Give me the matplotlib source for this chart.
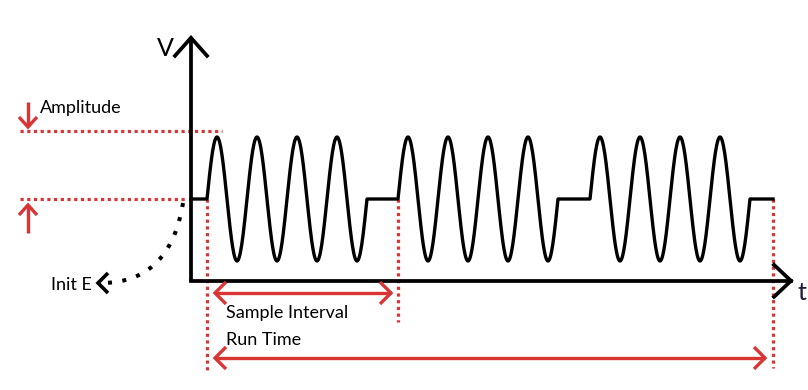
import numpy as np
import matplotlib
matplotlib.use("Agg")
import matplotlib.pyplot as plt

# ---- chart values (time in sine periods, voltage in amplitudes) ----
period = 1.0
amplitude = 1.0
cycles_per_burst = 4
burst_starts = [0.4, 5.175, 9.975]
run_end = 14.55
t_axis_end = 15.0
v_axis_top = 2.6
v_axis_bottom = -1.32
amp_marker_level = 1.1
labels = {"v": "V", "t": "t", "amp": "Amplitude", "init": "Init E",
          "interval": "Sample Interval", "run": "Run Time"}

RED = "#DA3535"
FONT = ["Lato", "DejaVu Sans"]

W, H = 808, 390
fig = plt.figure(figsize=(W / 100, H / 100), dpi=100)
ax = fig.add_axes([0, 0, 1, 1])
ax.set_axis_off()

# pixel <-> data mapping (layout)
X0, Y0, SX, SY = 191, 199, 40.0, 62.0
ax.set_xlim(-X0 / SX, (W - X0) / SX)
ax.set_ylim((Y0 - H) / SY, Y0 / SY)
def X(px): return (px - X0) / SX
def Y(py): return (Y0 - py) / SY
def dx(p): return p / SX
def dy(p): return p / SY

# ---- waveform ----
ts, vs = [0.0], [0.0]
for s in burst_starts:
    t = np.linspace(s, s + cycles_per_burst * period, 400)
    ts += list(t)
    vs += list(amplitude * np.sin(2 * np.pi * (t - s) / period))
ts.append(run_end)
vs.append(0.0)
ax.plot(ts, vs, color="black", lw=2.4, solid_joinstyle="round", zorder=3)

# ---- axes with open chevron heads ----
ax.plot([0, 0], [v_axis_bottom, v_axis_top], color="black", lw=2.7,
        solid_capstyle="butt", zorder=4)
ax.plot([0, t_axis_end], [v_axis_bottom, v_axis_bottom], color="black", lw=2.7,
        solid_capstyle="projecting", zorder=4)
ax.plot([dx(-16), 0, dx(16)], [v_axis_top - dy(18), v_axis_top, v_axis_top - dy(18)],
        color="black", lw=2.7, solid_joinstyle="miter", zorder=4)
ax.plot([t_axis_end - dx(17), t_axis_end, t_axis_end - dx(17)],
        [v_axis_bottom + dy(16), v_axis_bottom, v_axis_bottom - dy(16)],
        color="black", lw=2.7, solid_joinstyle="miter", zorder=4)
ax.text(X(165), Y(48), labels["v"], fontsize=18, family=FONT, ha="center", va="center")
ax.text(X(802), Y(292), labels["t"], fontsize=18, family=FONT, ha="center", va="center",
        color="#1a1a3a")

# ---- red dotted guide lines ----
dot = dict(color=RED, lw=2.3, linestyle=(0, (1.0, 1.1)), dash_capstyle="butt", zorder=2)
ax.plot([X(20), X(222)], [amp_marker_level] * 2, **dot)
ax.plot([X(20), X(185)], [0, 0], **dot)
ax.plot([burst_starts[0]] * 2, [0, Y(370)], **dot)
ax.plot([burst_starts[1]] * 2, [0, Y(322)], **dot)
ax.plot([run_end] * 2, [0, Y(368)], **dot)

# ---- red arrows ----
def chevron(tx, ty, ddx, ddy, color=RED, lw=2.4):
    ax.plot([tx + ddx[0], tx, tx + ddx[1]], [ty + ddy[0], ty, ty + ddy[1]],
            color=color, lw=lw, solid_joinstyle="miter", solid_capstyle="butt", zorder=5)

# amplitude arrows (vertical)
ax.plot([X(28), X(28)], [Y(102), Y(126)], color=RED, lw=2.4, solid_capstyle="butt")
chevron(X(28), Y(127), (dx(-9), dx(9)), (dy(10), dy(10)))
ax.plot([X(28), X(28)], [Y(206), Y(233)], color=RED, lw=2.4, solid_capstyle="butt")
chevron(X(28), Y(205), (dx(-9), dx(9)), (dy(-10), dy(-10)))
ax.text(X(40), Y(108), labels["amp"], fontsize=13, family=FONT, ha="left", va="center")

# sample interval arrow
si_y = Y(293)
a0, a1 = burst_starts[0] + dx(8), burst_starts[1] - dx(7)
ax.plot([a0, a1], [si_y, si_y], color=RED, lw=2.4, solid_capstyle="butt", zorder=5)
chevron(a0, si_y, (dx(11), dx(11)), (dy(11), dy(-11)))
chevron(a1, si_y, (dx(-11), dx(-11)), (dy(11), dy(-11)))
ax.text(X(226), Y(313), labels["interval"], fontsize=13, family=FONT, ha="left", va="center")

# run time arrow
rt_y = Y(358)
r0, r1 = burst_starts[0] + dx(8), run_end - dx(8)
ax.plot([r0, r1], [rt_y, rt_y], color=RED, lw=2.4, solid_capstyle="butt", zorder=5)
chevron(r0, rt_y, (dx(11), dx(11)), (dy(11), dy(-11)))
chevron(r1, rt_y, (dx(-11), dx(-11)), (dy(11), dy(-11)))
ax.text(X(226), Y(340), labels["run"], fontsize=13, family=FONT, ha="left", va="center")

# ---- Init E dotted curve (quadratic Bezier) ----
s = np.linspace(0, 1, 200)
p0, pc, p2 = np.array([183, 203]), np.array([170, 283]), np.array([101, 283])
bz = ((1 - s) ** 2)[:, None] * p0 + (2 * (1 - s) * s)[:, None] * pc + (s ** 2)[:, None] * p2
ax.plot(X(bz[:, 0]), Y(bz[:, 1]), color="black", lw=2.9,
        linestyle=(0, (1.0, 2.6)), dash_capstyle="butt", zorder=3)
chevron(X(98), Y(283), (dx(10), dx(10)), (dy(10), dy(-10)), color="black", lw=2.6)
ax.text(X(92), Y(285), labels["init"], fontsize=13, family=FONT, ha="right", va="center")

fig.savefig("out.png", dpi=100)
